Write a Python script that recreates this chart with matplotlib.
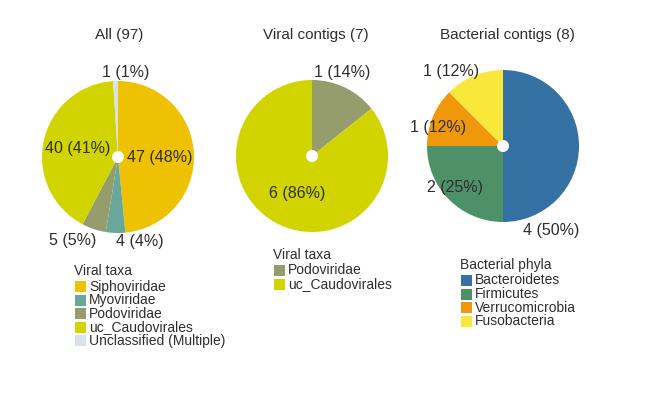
import numpy as np
import matplotlib
matplotlib.use("Agg")
import matplotlib.pyplot as plt
from matplotlib.patches import Circle, Rectangle

plt.rcParams["font.family"] = ["Liberation Sans", "DejaVu Sans"]

# ── data ────────────────────────────────────────────────
all_labels = ["Siphoviridae", "Myoviridae", "Podoviridae", "uc_Caudovirales", "Unclassified (Multiple)"]
all_counts = [47, 4, 5, 40, 1]
all_colors = ["#EEC200", "#6AA79B", "#949D6B", "#D2D400", "#D7E3EA"]

viral_labels = ["Podoviridae", "uc_Caudovirales"]
viral_counts = [1, 6]
viral_colors = ["#949D6B", "#D2D400"]

bact_labels = ["Bacteroidetes", "Firmicutes", "Verrucomicrobia", "Fusobacteria"]
bact_counts = [4, 2, 1, 1]
bact_colors = ["#3572A3", "#4E9168", "#EF980C", "#FAE73C"]

TXT = "#2e2e2e"
W, H = 650, 396

fig = plt.figure(figsize=(6.5, 3.96), dpi=100)
fig.patch.set_facecolor("white")


def fx(px):
    return px / W


def fy(py):
    return 1 - py / H


def pie_panel(cx, cy, r, counts, colors, title, tx, lab_pos):
    """cx, cy, r in pixels (y from top). lab_pos: (dist, angle shift) per wedge"""
    ax = fig.add_axes([fx(cx - r), fy(cy + r), 2 * r / W, 2 * r / H])
    wedges, _ = ax.pie(counts, colors=colors, startangle=90, counterclock=False,
                       radius=1.0, wedgeprops=dict(linewidth=0))
    ax.add_patch(Circle((0, 0), 0.07, color="white", zorder=5))
    total = sum(counts)
    for w, n, (d, shift) in zip(wedges, counts, lab_pos):
        mid = np.radians((w.theta1 + w.theta2) / 2 + shift)
        ax.text(d * np.cos(mid), d * np.sin(mid), f"{n} ({round(100 * n / total)}%)",
                ha="center", va="center", fontsize=11.5, color=TXT, clip_on=False)
    ax.set_xlim(-1, 1)
    ax.set_ylim(-1, 1)
    ax.set_aspect("equal")
    ax.axis("off")
    fig.text(fx(tx), fy(35), title, ha="center", va="center", fontsize=11, color=TXT)
    return ax


def legend_block(x, y, title, labels, colors, step=13.6):
    # title baseline-ish centre at y, rows below
    fig.text(fx(x), fy(y), title, ha="left", va="center", fontsize=10, color=TXT)
    for i, (lab, col) in enumerate(zip(labels, colors)):
        ry = y + 15.5 + i * step
        fig.add_artist(Rectangle((fx(x + 1), fy(ry + 5.5)), 11 / W, 11 / H,
                                 transform=fig.transFigure, facecolor=col,
                                 edgecolor="none"))
        fig.text(fx(x + 15), fy(ry), lab, ha="left", va="center", fontsize=10, color=TXT)


pie_panel(118, 157, 76, all_counts, all_colors, "All (97)", 119,
          [(0.55, -3), (1.15, 16), (1.25, -10), (0.54, 0), (1.12, -7)])
pie_panel(312, 156, 76, viral_counts, viral_colors, "Viral contigs (7)", 316,
          [(1.17, 6), (0.53, 4)])
pie_panel(503, 146, 76, bact_counts, bact_colors, "Bacterial contigs (8)", 507,
          [(1.28, -60), (0.84, -4), (0.89, 7), (1.19, 12.5)])

legend_block(74, 271, "Viral taxa", all_labels, all_colors)
legend_block(273, 255, "Viral taxa", viral_labels, viral_colors)
legend_block(460, 265, "Bacterial phyla", bact_labels, bact_colors)

fig.savefig("out.png", dpi=100, facecolor=fig.get_facecolor())
plt.close(fig)
